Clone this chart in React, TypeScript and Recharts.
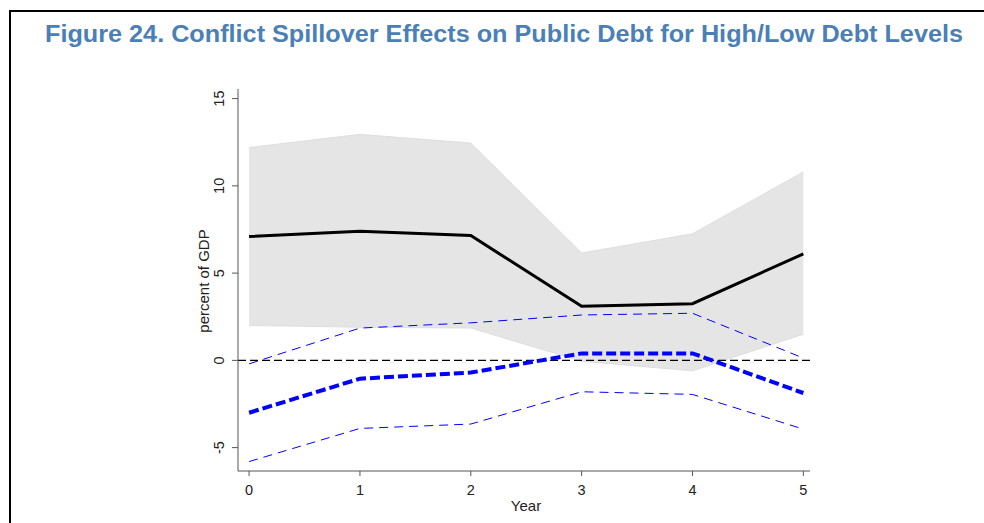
import React from 'react';
import { ComposedChart, Area, Line, XAxis, YAxis, ReferenceLine } from 'recharts';

const years = [0, 1, 2, 3, 4, 5];
const highDebt = [7.1, 7.4, 7.15, 3.1, 3.25, 6.1];
const highUpper = [12.2, 12.95, 12.45, 6.15, 7.25, 10.8];
const highLower = [2.0, 1.9, 1.85, -0.05, -0.6, 1.5];
const lowDebt = [-3.0, -1.05, -0.7, 0.4, 0.4, -1.87];
const lowUpper = [-0.2, 1.85, 2.15, 2.6, 2.7, 0.13];
const lowLower = [-5.8, -3.9, -3.65, -1.8, -1.95, -3.94];
const yTicks = [-5, 0, 5, 10, 15];

const FONT = '"Liberation Sans", Arial, sans-serif';

const chartData = years.map((year, i) => ({
  year,
  high: highDebt[i],
  highBand: [highLower[i], highUpper[i]],
  low: lowDebt[i],
  lowUpper: lowUpper[i],
  lowLower: lowLower[i],
}));

// vertical tick labels, stata-style
const YTick = (props: any) => {
  const { x, y, payload } = props;
  return (
    <text
      transform={`translate(${x - 11},${y}) rotate(-90)`}
      textAnchor="middle"
      dominantBaseline="central"
      fontSize={14.5}
      fontFamily={FONT}
      fill="#222"
    >
      {payload.value}
    </text>
  );
};

const App: React.FC = () => {
  return (
    <div style={{ position: 'absolute', left: 0, top: 0, width: 984, height: 523, background: '#fff' }}>
      <div
        style={{
          position: 'absolute',
          left: 9,
          top: 10,
          width: 975,
          height: 513,
          borderLeft: '2px solid #000',
          borderTop: '2px solid #000',
        }}
      />
      <svg width={984} height={60} style={{ position: 'absolute', left: 0, top: 0 }}>
        <text
          x={45}
          y={42}
          fontSize={23}
          fontWeight="bold"
          fontFamily={FONT}
          fill="#4a80b6"
          textLength={918}
          lengthAdjust="spacingAndGlyphs"
        >
          Figure 24. Conflict Spillover Effects on Public Debt for High/Low Debt Levels
        </text>
      </svg>
      <div style={{ position: 'absolute', left: 0, top: 0 }}>
        <ComposedChart
          width={984}
          height={523}
          data={chartData}
          margin={{ top: 89, right: 174, left: 178, bottom: 12 }}
        >
          <XAxis
            dataKey="year"
            type="number"
            domain={[-0.1, 5.06]}
            ticks={years}
            stroke="#555"
            tickSize={5}
            tickMargin={9}
            height={40}
            tick={{ fill: '#222', fontSize: 14.5, fontFamily: FONT }}
            label={{
              content: () => (
                <text x={526} y={511} textAnchor="middle" fontSize={15} fontFamily={FONT} fill="#222">
                  Year
                </text>
              ),
            }}
          />
          <YAxis
            type="number"
            domain={[-6.34, 15.55]}
            ticks={yTicks}
            allowDataOverflow
            stroke="#555"
            tickSize={6}
            tickMargin={2}
            width={60}
            tick={<YTick />}
            label={{
              content: () => (
                <text
                  transform="translate(203,281) rotate(-90)"
                  textAnchor="middle"
                  dominantBaseline="central"
                  fontSize={15}
                  fontFamily={FONT}
                  fill="#222"
                >
                  percent of GDP
                </text>
              ),
            }}
          />
          <Area
            dataKey="highBand"
            type="linear"
            fill="#e5e5e5"
            fillOpacity={1}
            stroke="#dedede"
            strokeWidth={1}
            isAnimationActive={false}
            activeDot={false}
          />
          <ReferenceLine y={0} stroke="#000" strokeWidth={1.3} strokeDasharray="8 4" />
          <Line dataKey="lowUpper" type="linear" stroke="#0000ff" strokeWidth={1} strokeDasharray="9 6" dot={false} isAnimationActive={false} />
          <Line dataKey="lowLower" type="linear" stroke="#0000ff" strokeWidth={1} strokeDasharray="9 6" dot={false} isAnimationActive={false} />
          <Line dataKey="high" type="linear" stroke="#000" strokeWidth={3} dot={false} isAnimationActive={false} />
          <Line dataKey="low" type="linear" stroke="#0000ff" strokeWidth={4} strokeDasharray="10 4" dot={false} isAnimationActive={false} />
        </ComposedChart>
      </div>
    </div>
  );
};

export default App;
